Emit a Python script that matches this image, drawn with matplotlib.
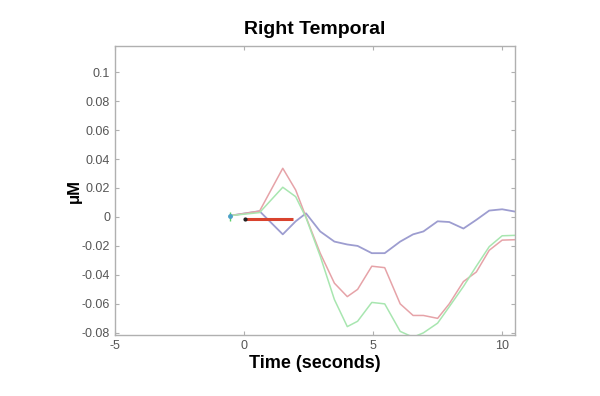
import numpy as np
import matplotlib
matplotlib.use("Agg")
import matplotlib.pyplot as plt

plt.rcParams["font.family"] = ["Liberation Sans", "DejaVu Sans"]
plt.rcParams["axes.unicode_minus"] = False

# time points (seconds) and traces (uM)
t = [-0.5, 0.6, 1.5, 2.0, 2.4, 2.95, 3.5, 4.0, 4.4, 4.95, 5.45, 6.05, 6.55, 6.95, 7.5, 7.95, 8.5, 9.0, 9.5, 10.0, 10.5]
blue = [0.001, 0.004, -0.012, -0.003, 0.0025, -0.010, -0.017, -0.019, -0.020, -0.025, -0.025, -0.017, -0.012, -0.010, -0.003, -0.0035, -0.008, -0.002, 0.0044, 0.0053, 0.0037]
red = [0.001, 0.004, 0.0336, 0.0186, 0.0, -0.025, -0.0457, -0.055, -0.050, -0.034, -0.035, -0.060, -0.068, -0.068, -0.070, -0.060, -0.0446, -0.038, -0.023, -0.016, -0.0157]
green = [0.001, 0.003, 0.0205, 0.014, -0.0005, -0.027, -0.057, -0.0757, -0.072, -0.059, -0.060, -0.079, -0.083, -0.080, -0.0733, -0.062, -0.048, -0.034, -0.0205, -0.013, -0.0127]

# stimulus bar
bar_x = [0.05, 1.9]
bar_y = [-0.0016, -0.0016]

fig = plt.figure(figsize=(6, 3.96), dpi=100)
ax = fig.add_axes([0.1917, 0.154, 0.6667, 0.7298])

ax.plot(t, blue, color="#9d9dd0", lw=1.3)
ax.plot(t, red, color="#e6a3a8", lw=1.1)
ax.plot(t, green, color="#a8e6b0", lw=1.1)
ax.plot(bar_x, bar_y, color="#d9432e", lw=2.2, solid_capstyle="butt")
ax.plot([bar_x[0]], [bar_y[0]], "o", color="#222222", ms=2)
ax.errorbar([-0.55], [0.0005], yerr=[0.003], color="#5ccf6a", lw=1, capsize=0)
ax.plot([-0.55], [0.0005], "o", color="#4aa0c8", ms=2.5)

ax.set_xlim(-5, 10.5)
ax.set_ylim(-0.0815, 0.118)
ax.set_xticks([-5, 0, 5, 10])
ax.set_yticks(np.arange(-0.08, 0.101, 0.02))
ax.set_yticklabels(["-0.08", "-0.06", "-0.04", "-0.02", "0", "0.02", "0.04", "0.06", "0.08", "0.1"])

for s in ax.spines.values():
    s.set_color("#b0b0b0")
    s.set_linewidth(1)
ax.tick_params(direction="in", length=3, color="#b0b0b0", labelcolor="#555555",
               labelsize=9, top=True, right=True)

ax.set_title("Right Temporal", fontsize=14, fontweight="bold", pad=9)
ax.set_xlabel("Time (seconds)", fontsize=13, fontweight="bold", labelpad=2)
ax.set_ylabel("μM", fontsize=12, fontweight="bold", labelpad=0)

fig.savefig("out.png", dpi=100)
